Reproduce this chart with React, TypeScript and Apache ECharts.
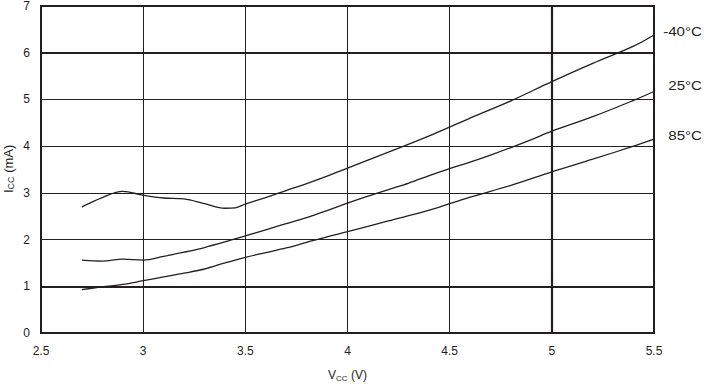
import React, { useEffect, useRef } from "react";
import * as echarts from "echarts";

const vccM40 = [2.7, 2.8, 2.9, 3.0, 3.1, 3.2, 3.3, 3.4, 3.45, 3.5, 3.6, 3.7, 3.8, 3.9, 4.0, 4.2, 4.4, 4.6, 4.8, 5.0, 5.2, 5.4, 5.5];
const iccM40 = [2.7, 2.9, 3.03, 2.95, 2.89, 2.87, 2.77, 2.67, 2.68, 2.76, 2.9, 3.05, 3.2, 3.36, 3.53, 3.87, 4.22, 4.6, 4.97, 5.38, 5.77, 6.14, 6.38];

const vcc25 = [2.7, 2.8, 2.9, 3.0, 3.1, 3.2, 3.3, 3.4, 3.5, 3.6, 3.7, 3.8, 3.9, 4.0, 4.1, 4.2, 4.3, 4.4, 4.5, 4.6, 4.7, 4.8, 4.9, 5.0, 5.2, 5.4, 5.5];
const icc25 = [1.56, 1.54, 1.58, 1.56, 1.64, 1.73, 1.83, 1.95, 2.08, 2.21, 2.34, 2.47, 2.62, 2.78, 2.93, 3.07, 3.21, 3.37, 3.52, 3.66, 3.81, 3.97, 4.14, 4.32, 4.63, 4.98, 5.17];

const vcc85 = [2.7, 2.8, 2.9, 3.0, 3.1, 3.2, 3.3, 3.4, 3.5, 3.6, 3.7, 3.8, 3.9, 4.0, 4.2, 4.4, 4.6, 4.8, 5.0, 5.2, 5.4, 5.5];
const icc85 = [0.93, 0.99, 1.04, 1.12, 1.2, 1.28, 1.37, 1.5, 1.62, 1.72, 1.82, 1.94, 2.06, 2.17, 2.4, 2.63, 2.91, 3.16, 3.45, 3.72, 4.0, 4.15];

const seriesNames = ["-40°C", "25°C", "85°C"];
const labelY = [31, 85, 135];

const INK = "#231f20";
const FONT = "'Liberation Sans', Arial, Helvetica, sans-serif";

const pairs = (xs: number[], ys: number[]) => xs.map((x, i) => [x, ys[i]]);

export default function App() {
  const ref = useRef<HTMLDivElement>(null);
  useEffect(() => {
    if (!ref.current) return;
    const chart = echarts.init(ref.current, undefined, { renderer: "svg" });
    const lineSeries = (name: string, data: number[][], extra: any = {}) => ({
      name,
      type: "line",
      data,
      smooth: 0.35,
      showSymbol: false,
      symbol: "none",
      lineStyle: { color: INK, width: 1.3 },
      z: 5,
      ...extra,
    });
    chart.setOption({
      animation: false,
      backgroundColor: "#ffffff",
      grid: {
        left: 41,
        right: 50,
        top: 6,
        bottom: 53,
        show: true,
        borderWidth: 2,
        borderColor: INK,
        backgroundColor: "transparent",
      },
      xAxis: {
        type: "value",
        min: 2.5,
        max: 5.5,
        interval: 0.5,
        axisLine: { show: false },
        axisTick: { show: false },
        axisLabel: { color: INK, fontSize: 12, fontFamily: FONT, margin: 12 },
        splitLine: { show: true, lineStyle: { color: INK, width: 1 } },
      },
      yAxis: {
        type: "value",
        min: 0,
        max: 7,
        interval: 1,
        axisLine: { show: false },
        axisTick: { show: false },
        axisLabel: { color: INK, fontSize: 12, fontFamily: FONT, margin: 11 },
        splitLine: { show: true, lineStyle: { color: INK, width: 1 } },
      },
      series: [
        lineSeries(seriesNames[0], pairs(vccM40, iccM40), {
          markLine: {
            silent: true,
            symbol: ["none", "none"],
            label: { show: false },
            lineStyle: { color: INK, width: 2.2, type: "solid" },
            data: [{ yAxis: 1 }, { yAxis: 6 }, { xAxis: 5 }],
          },
        }),
        lineSeries(seriesNames[1], pairs(vcc25, icc25)),
        lineSeries(seriesNames[2], pairs(vcc85, icc85)),
      ],
      graphic: [
        ...seriesNames.map((n, i) => ({
          type: "text",
          x: 702,
          y: labelY[i],
          scaleX: 1.12,
          style: {
            text: n,
            fill: INK,
            fontSize: 13.5,
            fontFamily: FONT,
            align: "right",
            verticalAlign: "middle",
          },
        })),
        {
          type: "group",
          x: 328,
          y: 375,
          children: [
            { type: "text", x: 0, y: 0, style: { text: "V", fill: INK, fontSize: 12, fontFamily: FONT, verticalAlign: "middle" } },
            { type: "text", x: 8, y: 3, style: { text: "CC", fill: INK, fontSize: 8, fontFamily: FONT, verticalAlign: "middle" } },
            { type: "text", x: 19.6, y: 0, style: { text: " (V)", fill: INK, fontSize: 12, fontFamily: FONT, verticalAlign: "middle" } },
          ],
        },
        {
          type: "group",
          x: 8,
          y: 193,
          rotation: Math.PI / 2,
          children: [
            { type: "text", x: 0, y: 0, style: { text: "I", fill: INK, fontSize: 13, fontFamily: FONT, verticalAlign: "middle" } },
            { type: "text", x: 3.6, y: 3, style: { text: "CC", fill: INK, fontSize: 9, fontFamily: FONT, verticalAlign: "middle" } },
            { type: "text", x: 16.6, y: 0, style: { text: " (mA)", fill: INK, fontSize: 13, fontFamily: FONT, verticalAlign: "middle" } },
          ],
        },
      ],
    });
    return () => chart.dispose();
  }, []);
  return (
    <div
      ref={ref}
      style={{ position: "fixed", left: 0, top: 0, width: 704, height: 386, background: "#fff" }}
    />
  );
}
